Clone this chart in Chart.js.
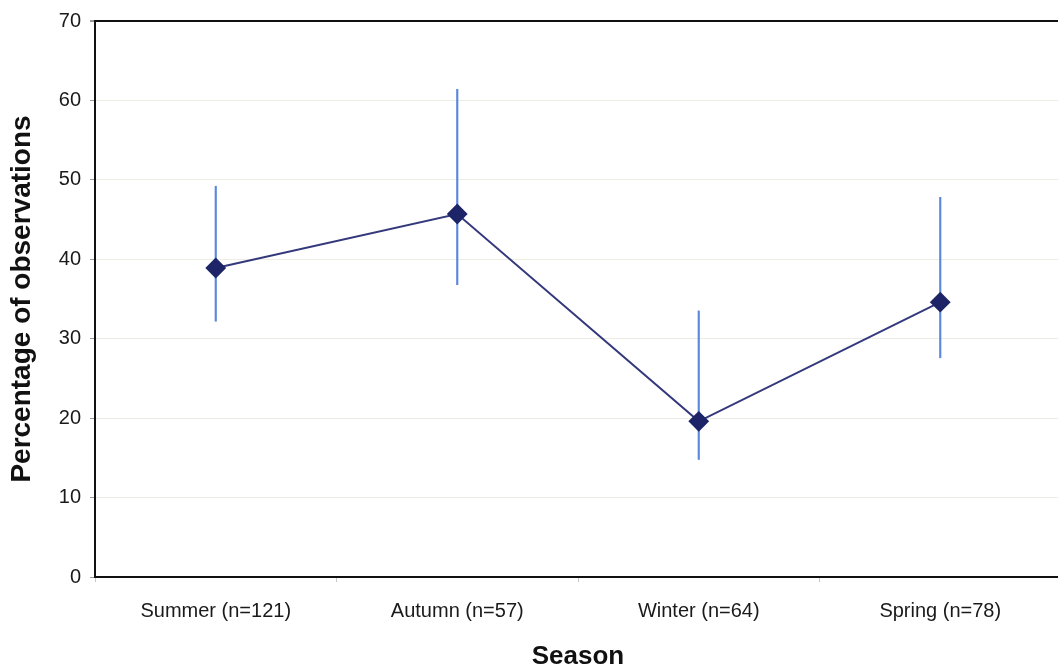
<!DOCTYPE html>
<html>
<head>
<meta charset="utf-8">
<script src="https://cdn.jsdelivr.net/npm/chart.js@4"></script>
<style>
    html, body { margin: 0; padding: 0; background: #fff; overflow: hidden; }
    canvas { display: block; }
</style>
</head>
<body>
<canvas id="seasonChart" width="1072" height="672"></canvas>
<script>
// Data
const seasons = ['Summer (n=121)', 'Autumn (n=57)', 'Winter (n=64)', 'Spring (n=78)'];
const percentages = [38.9, 45.7, 19.6, 34.6];
const lowerLimits = [32.2, 36.8, 14.8, 27.6];
const upperLimits = [49.2, 61.4, 33.5, 47.8];
const yTicks = [0, 10, 20, 30, 40, 50, 60, 70];

const FONT = '"Liberation Sans", Arial, sans-serif';

const initChart = () => {
    const ctx = document.getElementById('seasonChart');
    const ranges = seasons.map((s, i) => [lowerLimits[i], upperLimits[i]]);

    new Chart(ctx, {
        type: 'line',
        data: {
            labels: seasons,
            datasets: [
                {
                    label: 'Percentage',
                    data: percentages,
                    borderColor: '#34397c',
                    borderWidth: 2,
                    pointStyle: 'rectRot',
                    pointRadius: 9,
                    pointBackgroundColor: '#1d2568',
                    pointBorderColor: '#1d2568',
                    tension: 0,
                    order: 0
                },
                {
                    // error bars as thin floating bars
                    type: 'bar',
                    label: 'Range',
                    data: ranges,
                    backgroundColor: '#5b88dc',
                    barThickness: 1.5,
                    order: 1
                }
            ]
        },
        options: {
            responsive: false,
            animation: false,
            layout: { padding: { top: 19, right: 1, left: 0, bottom: 0 } },
            plugins: {
                legend: { display: false },
                tooltip: { enabled: false }
            },
            scales: {
                x: {
                    offset: true,
                    grid: {
                        offset: true,
                        drawOnChartArea: false,
                        drawTicks: true,
                        tickLength: 5,
                        tickColor: '#c8c8c8'
                    },
                    border: { color: '#111', width: 2 },
                    ticks: {
                        font: { family: FONT, size: 20 },
                        color: '#1a1a1a',
                        padding: 17,
                        maxRotation: 0
                    },
                    title: {
                        display: true,
                        text: 'Season',
                        font: { family: FONT, size: 26, weight: 'bold' },
                        color: '#111',
                        padding: { top: 0, bottom: 0 }
                    },
                    afterFit: scale => { scale.height = 95; }
                },
                y: {
                    min: 0,
                    max: 70,
                    afterBuildTicks: scale => {
                        scale.ticks = yTicks.map(v => ({ value: v }));
                    },
                    grid: {
                        color: c => c.tick && c.tick.value === 70 ? '#111' : 'rgba(215,215,195,0.45)',
                        lineWidth: c => c.tick && c.tick.value === 70 ? 2 : 1,
                        tickColor: '#999',
                        tickLength: 5
                    },
                    border: { color: '#111', width: 2 },
                    ticks: {
                        font: { family: FONT, size: 20 },
                        color: '#1a1a1a',
                        padding: 9
                    },
                    title: {
                        display: true,
                        text: 'Percentage of observations',
                        font: { family: FONT, size: 28, weight: 'bold' },
                        color: '#111',
                        padding: { top: 5, bottom: 0 }
                    },
                    afterFit: scale => { scale.width = 95; }
                }
            }
        }
    });
};

if (document.readyState === 'loading') {
    window.addEventListener('DOMContentLoaded', initChart);
} else {
    initChart();
}
</script>
</body>
</html>
